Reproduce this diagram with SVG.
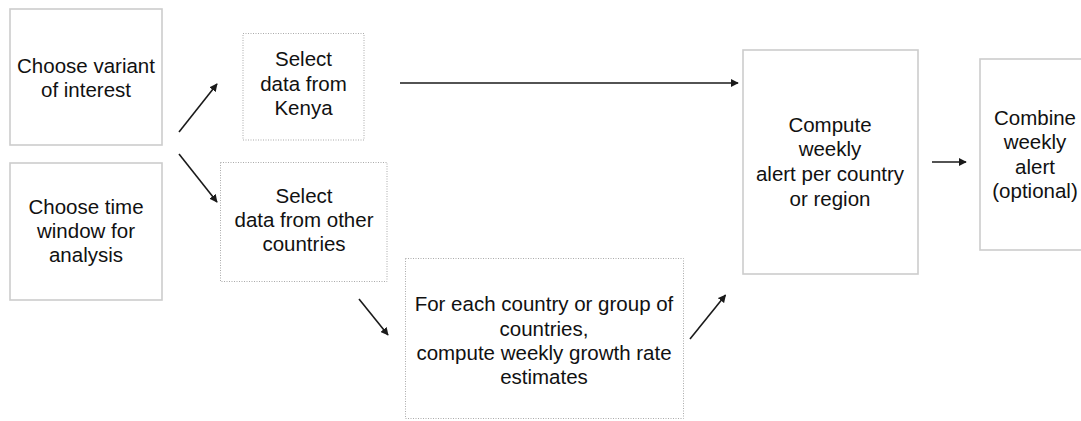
<svg xmlns="http://www.w3.org/2000/svg" width="1081" height="421" viewBox="0 0 1081 421">
<defs>
<marker id="ah" viewBox="0 0 10 10" refX="9" refY="5" markerWidth="5" markerHeight="5" orient="auto" markerUnits="strokeWidth">
<path d="M0,0 L10,5 L0,10 z" fill="#1a1a1a"/>
</marker>
<style>
.solid{fill:#fff;stroke:#cccccc;stroke-width:1.6}
.dot{fill:#fff;stroke:#aaaaaa;stroke-width:1;stroke-dasharray:1 1.5}
text{font-family:"Liberation Sans",Arial,Helvetica,sans-serif;font-size:20.5px;fill:#111;text-anchor:middle}
.conn line{stroke:#1a1a1a;stroke-width:1.6;marker-end:url(#ah)}
</style>
</defs>
<rect width="1081" height="421" fill="#fff"/>
<g id="variant">
<rect class="solid" x="10" y="9" width="152" height="136"/>
<text x="86" y="73">Choose variant</text>
<text x="86" y="97">of interest</text>
</g>
<g id="timewindow">
<rect class="solid" x="10" y="163" width="152" height="137"/>
<text x="86" y="214">Choose time</text>
<text x="86" y="238">window for</text>
<text x="86" y="262">analysis</text>
</g>
<g id="kenya">
<rect class="dot" x="243" y="33.5" width="121" height="106.5"/>
<text x="303.5" y="66">Select</text>
<text x="303.5" y="91">data from</text>
<text x="303.5" y="115">Kenya</text>
</g>
<g id="others">
<rect class="dot" x="220.5" y="162.5" width="166.5" height="119"/>
<text x="304" y="203">Select</text>
<text x="304" y="227">data from other</text>
<text x="304" y="251">countries</text>
</g>
<g id="growth">
<rect class="dot" x="405.5" y="258.5" width="278" height="160"/>
<text x="544" y="311">For each country or group of</text>
<text x="544" y="336">countries,</text>
<text x="544" y="360">compute weekly growth rate</text>
<text x="544" y="384">estimates</text>
</g>
<g id="compute">
<rect class="solid" x="743" y="50" width="175" height="224"/>
<text x="830" y="132">Compute</text>
<text x="830" y="156">weekly</text>
<text x="830" y="181">alert per country</text>
<text x="830" y="206">or region</text>
</g>
<g id="combine">
<rect class="solid" x="980" y="59" width="120" height="191"/>
<text x="1035" y="125">Combine</text>
<text x="1035" y="149">weekly</text>
<text x="1035" y="174">alert</text>
<text x="1035" y="198">(optional)</text>
</g>
<g id="connectors" class="conn">
<line x1="179" y1="132" x2="217" y2="84"/>
<line x1="179" y1="154" x2="217" y2="202"/>
<line x1="400" y1="83" x2="738" y2="83"/>
<line x1="359" y1="299" x2="388" y2="335"/>
<line x1="690" y1="339" x2="725.5" y2="295"/>
<line x1="932" y1="162" x2="966" y2="162"/>
</g>
</svg>
